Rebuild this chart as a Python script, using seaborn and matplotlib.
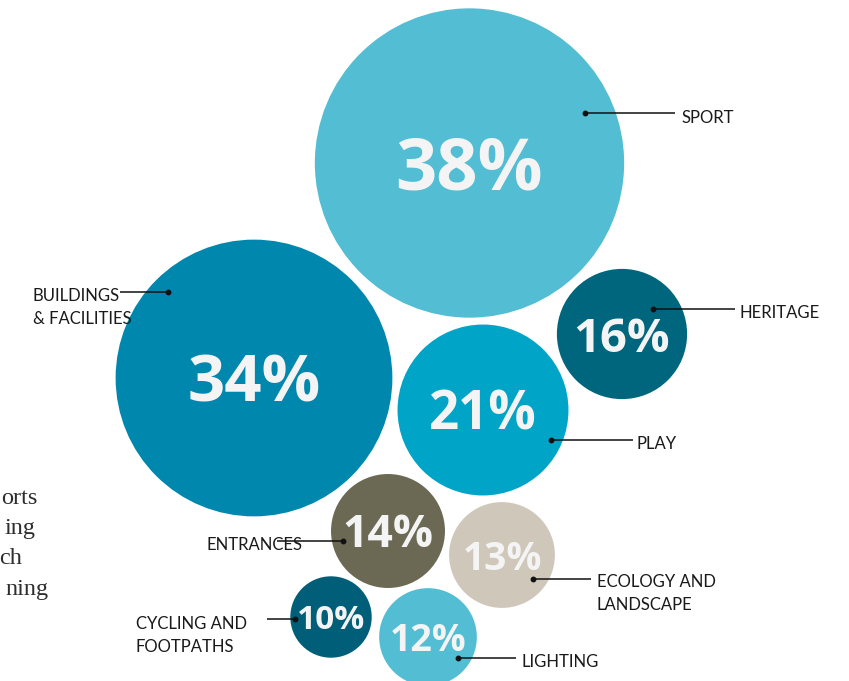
import matplotlib
matplotlib.use("Agg")
import matplotlib.pyplot as plt
import seaborn as sns
import pandas as pd

# ---- data ----
categories = ["SPORT", "BUILDINGS\n& FACILITIES", "HERITAGE", "PLAY",
              "ENTRANCES", "ECOLOGY AND\nLANDSCAPE", "CYCLING AND\nFOOTPATHS", "LIGHTING"]
shares = [38, 34, 16, 21, 14, 13, 10, 12]
pct_labels = ["38%", "34%", "16%", "21%", "14%", "13%", "10%", "12%"]

# ---- layout / style (pixel coordinates of the 849x681 canvas) ----
bubble_x = [469.5, 254, 622, 483, 388, 502, 331, 428]
bubble_y = [163, 378, 334, 410, 531, 555, 617, 637]
colors = ["#52BDD3", "#0087AE", "#00667E", "#00A4C7",
          "#6B6853", "#CFC7BA", "#005E78", "#52BDD3"]
pct_fontsize = [52, 47, 34, 38, 32, 28, 24, 27]
px_per_pct = 4.07  # bubble radius in px per percentage point
# leader line: dot (x,y) -> far end (x); label anchor = baseline of last line
dot_xy = [(585, 113), (168, 292), (653, 309), (551, 440),
          (343, 541), (533, 579), (295, 619), (458, 658)]
line_end_x = [675, 120, 735, 633, 277, 591, 267, 516]
label_xy = [(682, 123), (33, 324), (740, 318), (637, 449),
            (207, 550), (597, 610), (136, 652), (522, 667)]

df = pd.DataFrame({"cat": categories, "share": shares, "x": bubble_x, "y": bubble_y})

dpi = 100
fig = plt.figure(figsize=(8.49, 6.81), dpi=dpi)
ax = fig.add_axes([0, 0, 1, 1])

# marker area (pt^2) from the radius in px
size_map = {s: (2 * s * px_per_pct * 72 / dpi) ** 2 for s in shares}
palette = dict(zip(categories, colors))
sns.scatterplot(data=df, x="x", y="y", hue="cat", palette=palette,
                size="share", sizes=size_map, linewidth=0, alpha=1,
                legend=False, ax=ax, clip_on=False, zorder=1)
ax.set_xlim(0, 849)
ax.set_ylim(681, 0)
ax.axis("off")

for i, cat in enumerate(categories):
    fs = pct_fontsize[i]
    ax.text(bubble_x[i], bubble_y[i] + 0.12 * fs + 1, pct_labels[i], ha="center",
            va="center", fontsize=fs, fontweight="bold", color="#F4F4F4",
            family="Open Sans", zorder=3)
    dx, dy = dot_xy[i]
    ax.plot([dx, line_end_x[i]], [dy, dy], color="#111111", lw=1.1, zorder=4,
            solid_capstyle="butt")
    ax.plot([dx], [dy], marker="o", ms=3.2, color="#111111", zorder=5)
    lx, ly = label_xy[i]
    ax.text(lx, ly, cat, ha="left", va="baseline", fontsize=12,
            family="Lato", color="#1A1A1A", linespacing=1.55, zorder=6)

# fragments of body text at the left edge
frag_text = ["orts", "ing", "ch", "ning"]
frag_right = [38, 36, 22, 49]
frag_base = [504, 534, 564, 595]
for t, xr, yb in zip(frag_text, frag_right, frag_base):
    ax.text(xr, yb, t, ha="right", va="baseline", fontsize=17.5,
            family="Liberation Serif", color="#2E2E2E")

fig.savefig("out.png", dpi=dpi, facecolor="white")
